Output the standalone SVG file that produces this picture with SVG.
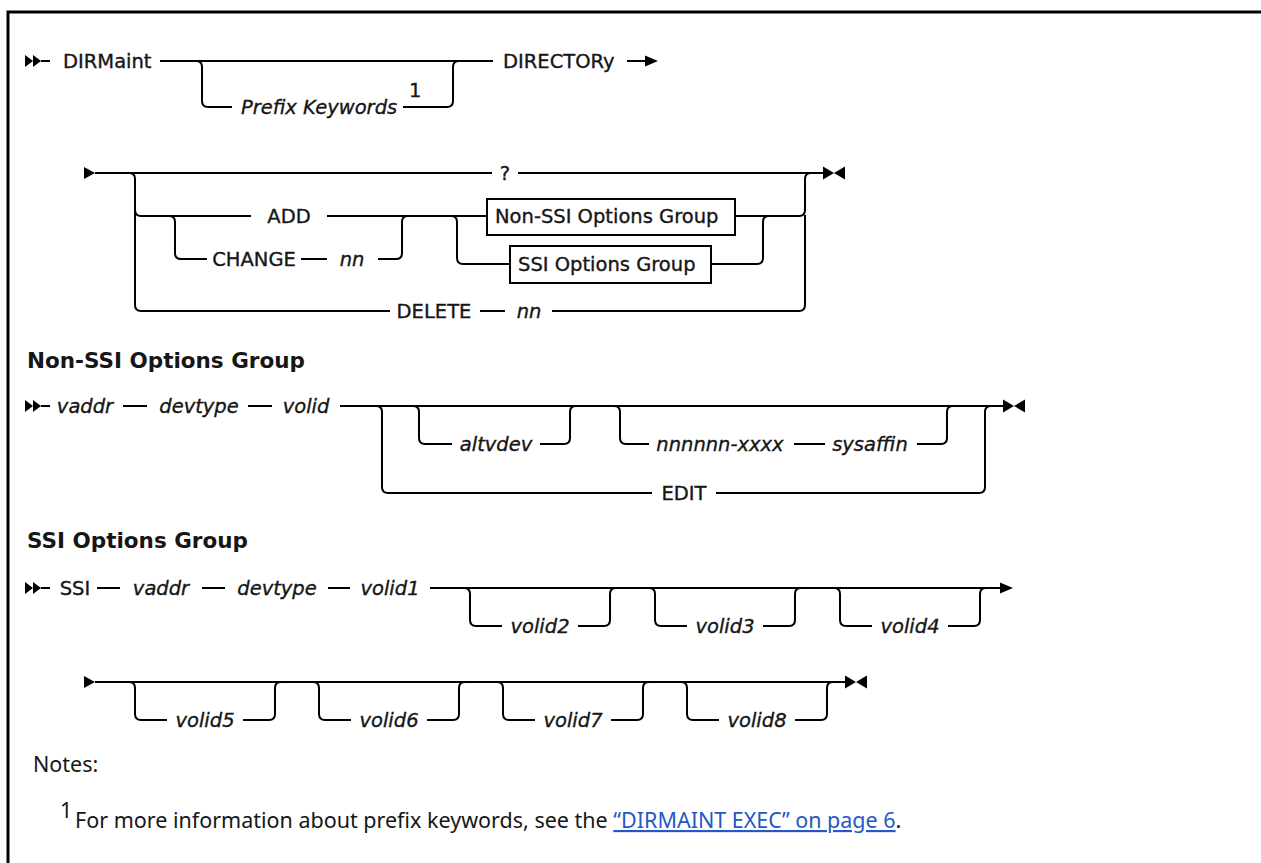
<svg xmlns="http://www.w3.org/2000/svg" width="1261" height="863" viewBox="0 0 1261 863">
<style>
.c{fill:none;stroke:#000;stroke-width:2}
.t{font-family:"DejaVu Sans",sans-serif;font-size:19.5px;fill:#161616;stroke:#161616;stroke-width:0.35px}
.m{text-anchor:middle}
.i{font-style:italic}
.h{font-family:"DejaVu Sans",sans-serif;font-size:21.5px;font-weight:bold;fill:#161616}
.n{font-family:"Noto Sans",sans-serif;font-size:21.5px;fill:#161616}
.b{fill:#fff;stroke:#000;stroke-width:2}
.a{fill:#000}
.k{fill:#2458c4}
</style>
<defs>
<g id="dbl"><polygon points="0,-6 8,0 0,6"/><polygon points="8,-6 16,0 8,6"/></g>
<g id="end"><polygon points="0,-6.5 11,0 0,6.5"/><polygon points="22,-6.5 11,0 22,6.5"/></g>
<polygon id="tri" points="0,-6 11,0 0,6"/>
</defs>
<rect x="0" y="0" width="1261" height="863" fill="#fff"/>
<rect x="8" y="12" width="1300" height="900" fill="none" stroke="#000" stroke-width="3"/>
<g id="connectors">
<path class="c" d="M41 61H50M160 61H493M196 61Q202 61 202 67V101Q202 107 208 107H232M403 107H447Q453 107 453 101V67Q453 61 459 61M627 61H646"/>
<path class="c" d="M95 173H492M518 173H823M129 173Q135 173 135 179V305Q135 311 141 311H390M135 210Q135 216 141 216H251M327 216H487M169 216Q175 216 175 222V253Q175 259 181 259H207M301 259H327M378 259H396Q402 259 402 253V222Q402 216 408 216M451 216Q457 216 457 222V258Q457 264 463 264H510M711 264H757Q763 264 763 258V222Q763 216 769 216M735 216H799Q805 216 805 210V179Q805 173 811 173M480 311H505M552 311H799Q805 311 805 305V215"/>
<path class="c" d="M41 406H50M123 406H147M248 406H272M340 406H1003M376 406Q382 406 382 412V487Q382 493 388 493H652M716 493H979Q985 493 985 487V412Q985 406 991 406M413 406Q419 406 419 412V438Q419 444 425 444H452M540 444H564Q570 444 570 438V412Q570 406 576 406M614 406Q620 406 620 412V438Q620 444 626 444H649M794 444H825M917 444H941Q947 444 947 438V412Q947 406 953 406"/>
<path class="c" d="M41 588H50M97 588H120M202 588H225M328 588H350M430 588H1001M464 588Q470 588 470 594V620Q470 626 476 626H502M578 626H604Q610 626 610 620V594Q610 588 616 588M649 588Q655 588 655 594V620Q655 626 661 626H687M763 626H789Q795 626 795 620V594Q795 588 801 588M834 588Q840 588 840 594V620Q840 626 846 626H872M948 626H974Q980 626 980 620V594Q980 588 986 588"/>
<path class="c" d="M95 682H845M129 682Q135 682 135 688V714Q135 720 141 720H167M243 720H269Q275 720 275 714V688Q275 682 281 682M313 682Q319 682 319 688V714Q319 720 325 720H351M427 720H453Q459 720 459 714V688Q459 682 465 682M497 682Q503 682 503 688V714Q503 720 509 720H535M611 720H637Q643 720 643 714V688Q643 682 649 682M681 682Q687 682 687 688V714Q687 720 693 720H719M795 720H821Q827 720 827 714V688Q827 682 833 682"/>
<g class="a">
<use href="#dbl" x="25" y="61"/>
<polygon points="645,55.5 658,61 645,66.5"/>
<use href="#tri" x="84" y="173"/>
<use href="#end" x="823" y="173"/>
<use href="#dbl" x="25" y="406"/>
<use href="#end" x="1003" y="406"/>
<use href="#dbl" x="25" y="588"/>
<polygon points="1000,582.5 1013,588 1000,593.5"/>
<use href="#tri" x="84" y="682"/>
<use href="#end" x="845" y="682"/>
</g>
</g>
<g id="n-dirmaint"><text class="t" x="63" y="68">DIRMaint</text></g>
<g id="n-prefix"><text class="t i" x="241" y="114">Prefix Keywords</text><text class="t" x="409" y="97">1</text></g>
<g id="n-directory"><text class="t" x="503" y="68">DIRECTORy</text></g>
<g id="n-q"><text class="t m" x="505" y="180">?</text></g>
<g id="n-add"><text class="t m" x="289" y="223">ADD</text></g>
<g id="n-change"><text class="t m" x="254" y="266">CHANGE</text><text class="t i m" x="352" y="266">nn</text></g>
<g id="n-nonssi-ref"><rect class="b" x="487" y="199" width="248" height="36"/><text class="t" x="495" y="223">Non-SSI Options Group</text></g>
<g id="n-ssi-ref"><rect class="b" x="510" y="246" width="201" height="37"/><text class="t" x="518" y="271">SSI Options Group</text></g>
<g id="n-delete"><text class="t m" x="434" y="318">DELETE</text><text class="t i m" x="529" y="318">nn</text></g>
<g id="h-nonssi"><text class="h" x="27" y="368">Non-SSI Options Group</text></g>
<g id="n-ns-vaddr"><text class="t i m" x="85" y="413">vaddr</text></g>
<g id="n-ns-devtype"><text class="t i m" x="199" y="413">devtype</text></g>
<g id="n-ns-volid"><text class="t i m" x="306" y="413">volid</text></g>
<g id="n-altvdev"><text class="t i m" x="496" y="451">altvdev</text></g>
<g id="n-nnnn"><text class="t i m" x="720" y="451">nnnnnn-xxxx</text></g>
<g id="n-sysaffin"><text class="t i m" x="870" y="451">sysaffin</text></g>
<g id="n-edit"><text class="t m" x="684" y="500">EDIT</text></g>
<g id="h-ssi"><text class="h" x="27" y="548">SSI Options Group</text></g>
<g id="n-ssi"><text class="t m" x="75" y="595">SSI</text></g>
<g id="n-s-vaddr"><text class="t i m" x="161" y="595">vaddr</text></g>
<g id="n-s-devtype"><text class="t i m" x="277" y="595">devtype</text></g>
<g id="n-volid1"><text class="t i m" x="390" y="595">volid1</text></g>
<g id="n-volid2"><text class="t i m" x="540" y="633">volid2</text></g>
<g id="n-volid3"><text class="t i m" x="725" y="633">volid3</text></g>
<g id="n-volid4"><text class="t i m" x="910" y="633">volid4</text></g>
<g id="n-volid5"><text class="t i m" x="205" y="727">volid5</text></g>
<g id="n-volid6"><text class="t i m" x="389" y="727">volid6</text></g>
<g id="n-volid7"><text class="t i m" x="573" y="727">volid7</text></g>
<g id="n-volid8"><text class="t i m" x="757" y="727">volid8</text></g>
<g id="notes">
<text class="n" x="33" y="772">Notes:</text>
<text class="n" x="60" y="818" font-size="15">1</text>
<text class="n" x="75" y="828">For more information about prefix keywords, see the <tspan class="k" text-decoration="underline">“DIRMAINT EXEC” on page 6</tspan>.</text>
</g>
</svg>
